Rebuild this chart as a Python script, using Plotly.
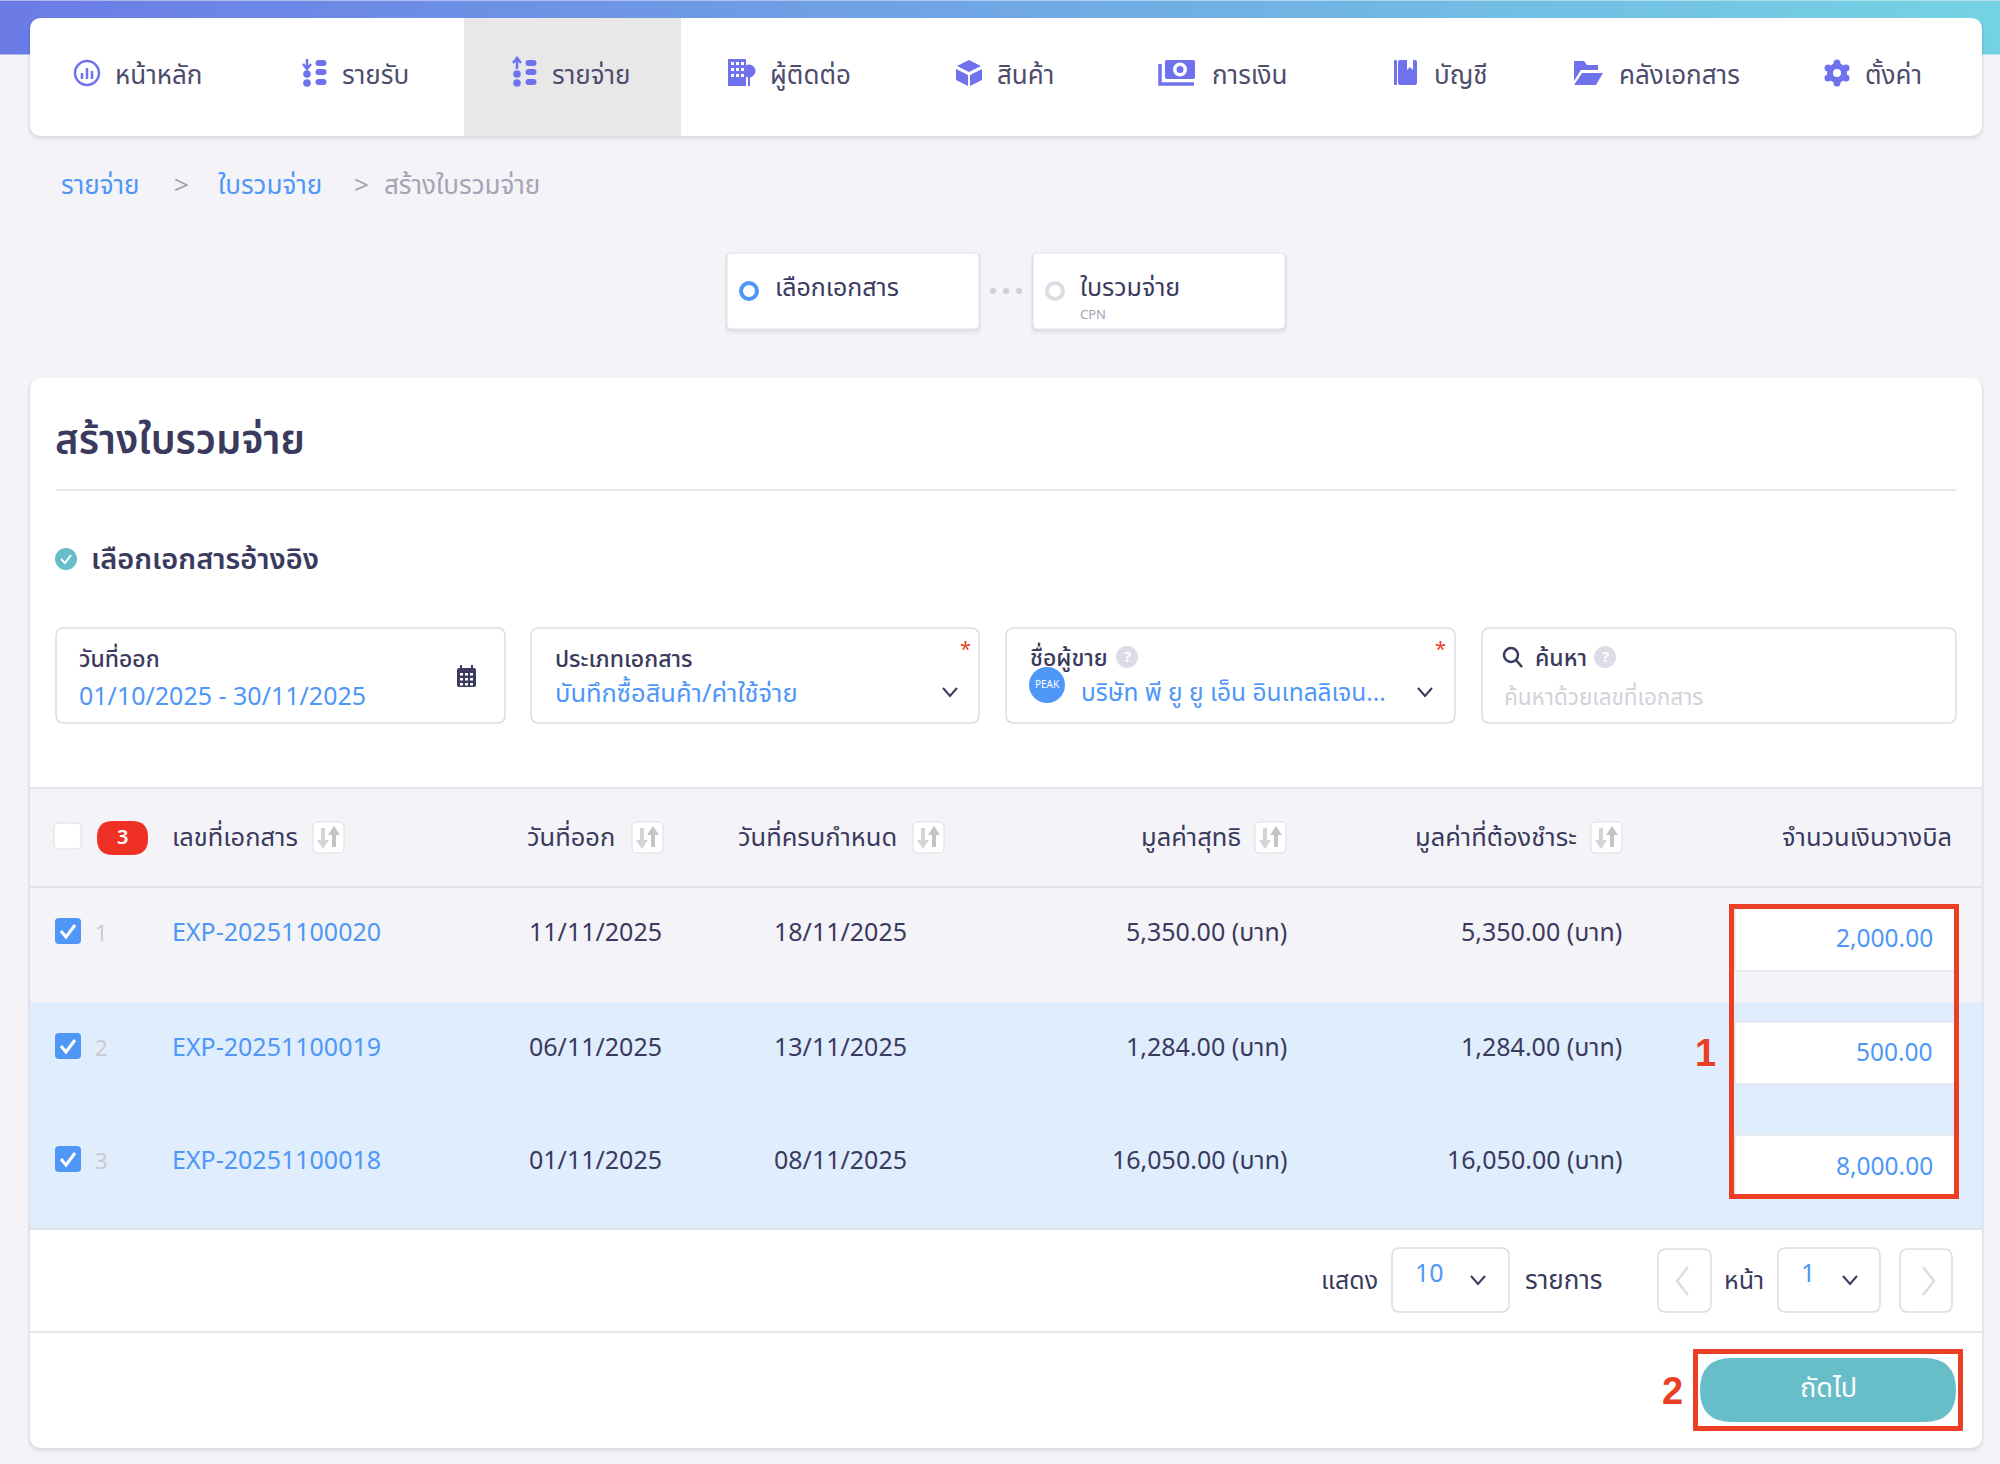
import plotly.graph_objects as go

# text content
nav_labels = ['หน้าหลัก', 'รายรับ', 'รายจ่าย', 'ผู้ติดต่อ', 'สินค้า', 'การเงิน', 'บัญชี', 'คลังเอกสาร', 'ตั้งค่า']
breadcrumbs = ['รายจ่าย', '>', 'ใบรวมจ่าย', '>', 'สร้างใบรวมจ่าย']
steps = ['เลือกเอกสาร', 'ใบรวมจ่าย']
headers = ['เลขที่เอกสาร', 'วันที่ออก', 'วันที่ครบกำหนด', 'มูลค่าสุทธิ', 'มูลค่าที่ต้องชำระ', 'จำนวนเงินวางบิล']

# table rows
row_no = ['1', '2', '3']
doc_no = ['EXP-20251100020', 'EXP-20251100019', 'EXP-20251100018']
issue_date = ['11/11/2025', '06/11/2025', '01/11/2025']
due_date = ['18/11/2025', '13/11/2025', '08/11/2025']
net_value = ['5,350.00 (บาท)', '1,284.00 (บาท)', '16,050.00 (บาท)']
due_value = ['5,350.00 (บาท)', '1,284.00 (บาท)', '16,050.00 (บาท)']
bill_value = ['2,000.00', '500.00', '8,000.00']

FONT = 'Noto Sans Thai, Noto Sans, Inter, sans-serif'
DARK = '#3a3a5e'
BLUE = '#4f97f7'
GREY = '#a4a4b4'
BORDER = '#dcdce6'
PURPLE = '#6f72ec'
RED = '#ea3f24'
TEAL = '#67bec8'

shapes = []
annotations = []


def rrect(x0, y0, x1, y1, r=0, fill='white', line=None, lw=1):
    path = (f'M{x0+r},{y0} L{x1-r},{y0} Q{x1},{y0} {x1},{y0+r} L{x1},{y1-r} Q{x1},{y1} {x1-r},{y1} '
            f'L{x0+r},{y1} Q{x0},{y1} {x0},{y1-r} L{x0},{y0+r} Q{x0},{y0} {x0+r},{y0} Z')
    shapes.append(dict(type='path', path=path, fillcolor=fill, xref='x', yref='y',
                       line=dict(color=line or 'rgba(0,0,0,0)', width=lw if line else 0)))


def shadow(x0, y0, x1, y1, r):
    for d, a in [(6, 0.02), (4, 0.03), (2, 0.05)]:
        rrect(x0 - d / 2, y0, x1 + d / 2, y1 + d, r, f'rgba(40,40,80,{a})')


def circle(cx, cy, r, fill='white', line=None, lw=1):
    shapes.append(dict(type='circle', x0=cx - r, x1=cx + r, y0=cy - r, y1=cy + r, xref='x', yref='y',
                       fillcolor=fill, line=dict(color=line or 'rgba(0,0,0,0)', width=lw if line else 0)))


def stroke(path, color, lw=2):
    shapes.append(dict(type='path', path=path, xref='x', yref='y', line=dict(color=color, width=lw)))


def solid(path, color):
    shapes.append(dict(type='path', path=path, xref='x', yref='y', fillcolor=color, line=dict(width=0)))


def txt(x, y, text, size=25, color=DARK, anchor='left', weight=400, font=FONT):
    # small nudge so the glyphs sit where the reference has them
    if anchor == 'left':
        x, y = x - 2.5, y + 1.5
    elif anchor == 'right':
        x, y = x + 2.5, y + 1.5
    annotations.append(dict(x=x, y=y, text=text, xref='x', yref='y', showarrow=False, xanchor=anchor,
                            yanchor='middle', font=dict(family=font, size=size, color=color, weight=weight)))


def chevron(cx, cy, color=DARK):
    stroke(f'M{cx-7},{cy-4} L{cx},{cy+4} L{cx+7},{cy-4}', color, 2)


def sort_icon(x0):
    rrect(x0, 822, x0 + 31, 853, 5, 'white', BORDER, 1)
    stroke(f'M{x0+10},{828} L{x0+10},{846}', '#d4d4d8', 4)
    solid(f'M{x0+4},{840} L{x0+16},{840} L{x0+10},{849} Z', '#d4d4d8')
    stroke(f'M{x0+21},{847} L{x0+21},{829}', '#c4c4c8', 4)
    solid(f'M{x0+15},{835} L{x0+27},{835} L{x0+21},{826} Z', '#c4c4c8')


def coins(x, y):
    for dy in (-10, -1, 9):
        rrect(x - 5.5, y + dy - 3, x + 5.5, y + dy + 3, 3, PURPLE)
    for dy in (1, 10):
        circle(x - 14, y + dy, 3.8, PURPLE)


def nav_icon(i, x, y):
    if i == 0:
        circle(x, y, 12, 'white', PURPLE, 2.5)
        for dx, h in [(-5, 6), (0, 11), (5, 8)]:
            stroke(f'M{x+dx},{y+6} L{x+dx},{y+6-h}', PURPLE, 2.5)
    elif i == 1:
        coins(x + 7, y)
        stroke(f'M{x-7},{y-14} L{x-7},{y-5} M{x-11},{y-9} L{x-7},{y-4} L{x-3},{y-9}', PURPLE, 2.5)
    elif i == 2:
        coins(x + 7, y)
        stroke(f'M{x-7},{y-4} L{x-7},{y-14} M{x-11},{y-10} L{x-7},{y-15} L{x-3},{y-10}', PURPLE, 2.5)
    elif i == 3:
        solid(f'M{x-13},{y-14} L{x+5},{y-14} L{x+5},{y+13} L{x-13},{y+13} Z', PURPLE)
        circle(x + 8, y - 2, 6.5, PURPLE)
        stroke(f'M{x+8},{y} L{x+8},{y+13}', PURPLE, 2)
        for gy in (-11, -5, 1):
            for gx in (-10, -5, 0):
                rrect(x + gx, y + gy, x + gx + 3, y + gy + 3, 0, 'white')
    elif i == 4:
        solid(f'M{x},{y-13} L{x+12},{y-7} L{x},{y-1} L{x-12},{y-7} Z', PURPLE)
        solid(f'M{x-13},{y-4} L{x-1},{y+2} L{x-1},{y+13} L{x-13},{y+7} Z', PURPLE)
        solid(f'M{x+13},{y-4} L{x+1},{y+2} L{x+1},{y+13} L{x+13},{y+7} Z', PURPLE)
    elif i == 5:
        stroke(f'M{x-17},{y-9} L{x-17},{y+11} L{x+17},{y+11}', PURPLE, 3.5)
        rrect(x - 12, y - 13, x + 18, y + 6, 2, PURPLE)
        circle(x + 3, y - 3.5, 7, 'white')
        circle(x + 3, y - 3.5, 3.5, PURPLE)
    elif i == 6:
        rrect(x - 8, y - 13, x + 11, y + 12, 2, PURPLE)
        rrect(x - 12, y - 13, x - 9, y + 12, 1, PURPLE)
        solid(f'M{x+1},{y-13} L{x+7},{y-13} L{x+7},{y-3} L{x+4},{y-6} L{x+1},{y-3} Z', 'white')
    elif i == 7:
        solid(f'M{x-14},{y-12} L{x-4},{y-12} L{x-1},{y-8} L{x+10},{y-8} L{x+10},{y-3} L{x-7},{y-3} L{x-14},{y+8} Z', PURPLE)
        solid(f'M{x-6},{y} L{x+15},{y} L{x+8},{y+12} L{x-14},{y+12} Z', PURPLE)
    else:
        for dx, dy in [(0, -10), (0, 10), (-9, -5), (9, -5), (-9, 5), (9, 5)]:
            circle(x + dx, y + dy, 3.5, PURPLE)
        circle(x, y, 10, PURPLE)
        circle(x, y, 4, 'white')


# nav card
shadow(30, 18, 1982, 136, 14)
rrect(30, 18, 1982, 136, 12)
shapes.append(dict(type='rect', x0=464, x1=681, y0=18, y1=136, fillcolor='#e8e8e8', line=dict(width=0)))
nav_text_x = [115, 342, 552, 770, 997, 1212, 1434, 1619, 1865]
nav_icon_x = [87, 314, 524, 741, 969, 1177, 1406, 1588, 1837]
for i, label in enumerate(nav_labels):
    nav_icon(i, nav_icon_x[i], 73)
    txt(nav_text_x[i], 74, label, 26, '#4c4c6c')

# breadcrumb
crumb_x = [61, 174, 218, 354, 384]
crumb_col = [BLUE, GREY, BLUE, GREY, GREY]
for i, label in enumerate(breadcrumbs):
    txt(crumb_x[i], 184, label, 26, crumb_col[i])

# steps
for x0, x1 in [(727, 979), (1033, 1285)]:
    shadow(x0, 253, x1, 329, 6)
    rrect(x0, 253, x1, 329, 5, 'white', '#e2e2ea', 1)
circle(749, 291, 8, 'white', BLUE, 4)
circle(1055, 291, 8, 'white', '#dcdce6', 4)
for x in (993, 1006, 1019):
    circle(x, 291, 3, '#cfcfd6')
txt(775, 286, steps[0], 25)
txt(1080, 286, steps[1], 25)
txt(1080, 313, 'CPN', 13, GREY)

# main card
shadow(30, 378, 1982, 1448, 14)
rrect(30, 378, 1982, 1448, 12)
shapes.append(dict(type='line', x0=56, x1=1956, y0=490, y1=490, line=dict(color=BORDER, width=1.5)))
txt(55, 440, 'สร้างใบรวมจ่าย', 40, DARK, weight=600)
circle(66, 559, 11, TEAL)
stroke('M61,559 L65,563 L71,555', 'white', 2)
txt(91, 558, 'เลือกเอกสารอ้างอิง', 29, DARK, weight=600)

# filter boxes
for x0, x1 in [(56, 505), (531, 979), (1006, 1455), (1482, 1956)]:
    rrect(x0, 628, x1, 723, 8, 'white', BORDER, 1.5)
txt(79, 658, 'วันที่ออก', 23, DARK, weight=500)
txt(79, 695, '01/10/2025 - 30/11/2025', 25, BLUE)
rrect(457, 668, 476, 687, 2, DARK)
for gx in (460, 465, 470):
    for gy in (673, 678, 683):
        rrect(gx, gy, gx + 3, gy + 2.5, 0, 'white')
stroke('M461,665 L461,669 M472,665 L472,669', DARK, 2)
txt(555, 658, 'ประเภทเอกสาร', 23, DARK, weight=500)
txt(555, 692, 'บันทึกซื้อสินค้า/ค่าใช้จ่าย', 25.5, BLUE)
txt(965, 650, '*', 20, RED, 'center')
chevron(950, 692)
txt(1030, 657, 'ชื่อผู้ขาย', 23, DARK, weight=500)
circle(1127, 657, 11, '#dcdce6')
txt(1127, 657, '?', 15, 'white', 'center', 700)
circle(1047, 685, 18, BLUE)
txt(1047, 685, 'PEAK', 10, 'white', 'center')
txt(1081, 692, 'บริษัท พี ยู ยู เอ็น อินเทลลิเจน...', 24.5, BLUE)
txt(1440, 650, '*', 20, RED, 'center')
chevron(1425, 692)
circle(1511, 655, 7, 'white', DARK, 2.5)
stroke('M1516,660 L1522,667', DARK, 2.5)
txt(1535, 657, 'ค้นหา', 23, DARK, weight=500)
circle(1605, 657, 11, '#dcdce6')
txt(1605, 657, '?', 15, 'white', 'center', 700)
txt(1504, 696, 'ค้นหาด้วยเลขที่เอกสาร', 22.5, '#d2d2da')

# table header and rows
shapes.append(dict(type='rect', x0=30, x1=1982, y0=788, y1=1002, fillcolor='#f4f4f8', line=dict(width=0)))
shapes.append(dict(type='rect', x0=30, x1=1982, y0=1002, y1=1229, fillcolor='#e0edfd', line=dict(width=0)))
for y in (788, 887, 1229, 1332):
    shapes.append(dict(type='line', x0=30, x1=1982, y0=y, y1=y, line=dict(color=BORDER, width=1.5)))
rrect(54, 823, 81, 849, 4, 'white', BORDER, 1)
rrect(97, 821, 148, 855, 16, '#ee3124')
txt(122.5, 838, '3', 20, 'white', 'center', 600)
header_x = [172, 527, 738, 1240, 1576, 1951]
header_anchor = ['left', 'left', 'left', 'right', 'right', 'right']
sort_x = [313, 632, 913, 1255, 1591]
for i, label in enumerate(headers):
    txt(header_x[i], 836, label, 25.5, DARK, header_anchor[i])
for x in sort_x:
    sort_icon(x)

row_y = [931, 1046, 1159]
input_y = [(907, 971), (1022, 1084), (1135, 1198)]
for i in range(3):
    y = row_y[i]
    rrect(55, y - 13, 81, y + 13, 4, BLUE)
    stroke(f'M61,{y} L66,{y+6} L75,{y-6}', 'white', 3)
    txt(101, y + 3, row_no[i], 22, '#c9c9d2', 'center')
    txt(172, y, doc_no[i], 25, BLUE)
    txt(529, y, issue_date[i], 25)
    txt(774, y, due_date[i], 25)
    txt(1286, y, net_value[i], 25, DARK, 'right')
    txt(1621, y, due_value[i], 25, DARK, 'right')
    y0, y1 = input_y[i]
    rrect(1735, y0, 1955, y1, 2, 'white', BORDER, 1)
    txt(1932, (y0 + y1) / 2 - 1, bill_value[i], 24.5, BLUE, 'right')

# red marks
rrect(1731.5, 906.5, 1956.5, 1196.5, 0, 'rgba(0,0,0,0)', RED, 5)
txt(1705, 1053, '1', 38, RED, 'center', 700, 'Liberation Sans')

# pagination
txt(1321, 1279, 'แสดง', 25)
rrect(1392, 1248, 1509, 1312, 8, 'white', BORDER, 1.5)
txt(1429, 1274, '10', 25, BLUE, 'center')
chevron(1478, 1280)
txt(1525, 1279, 'รายการ', 26)
rrect(1658, 1249, 1711, 1312, 8, 'white', BORDER, 1.5)
stroke('M1688,1267 L1677,1281 L1688,1295', '#dcdce6', 2.5)
txt(1724, 1279, 'หน้า', 25)
rrect(1778, 1248, 1880, 1312, 8, 'white', BORDER, 1.5)
txt(1808, 1274, '1', 25, BLUE, 'center')
chevron(1850, 1280)
rrect(1900, 1249, 1952, 1312, 8, 'white', BORDER, 1.5)
stroke('M1923,1267 L1934,1281 L1923,1295', '#dcdce6', 2.5)

# next button
rrect(1700, 1358, 1956, 1422, 32, TEAL)
txt(1828, 1388, 'ถัดไป', 27, 'white', 'center')
rrect(1695.5, 1351.5, 1960.5, 1428.5, 0, 'rgba(0,0,0,0)', RED, 5)
txt(1672, 1391, '2', 38, RED, 'center', 700, 'Liberation Sans')

fig = go.Figure()
# top gradient strip
fig.add_trace(go.Heatmap(x=[0, 2000], y=[14, 41], z=[[0, 1], [0, 1]], zsmooth='best', showscale=False,
                         colorscale=[[0, '#6b7be6'], [1, '#74d3e3']], hoverinfo='skip'))
fig.update_layout(width=2000, height=1464, margin=dict(l=0, r=0, t=0, b=0),
                  paper_bgcolor='#f3f3f8', plot_bgcolor='#f3f3f8',
                  xaxis=dict(range=[0, 2000], visible=False, fixedrange=True),
                  yaxis=dict(range=[1464, 0], visible=False, fixedrange=True),
                  shapes=shapes, annotations=annotations, font=dict(family=FONT))
# page has a default body margin, remove it so the figure fills the window
fig.write_html("out.html", post_script="document.body.style.margin='0';", config=dict(displayModeBar=False))
